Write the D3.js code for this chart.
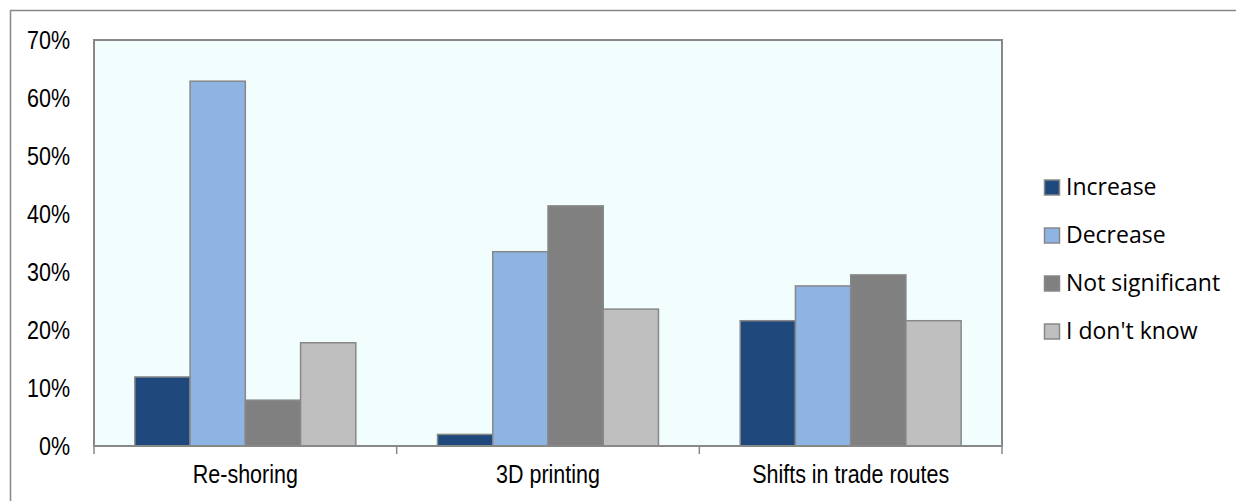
<!DOCTYPE html>
<html><head><meta charset="utf-8">
<script src="https://cdn.jsdelivr.net/npm/d3@7/dist/d3.min.js"></script>
<style>body{margin:0;background:#fff}</style>
</head><body>
<script>
const categories = ["Re-shoring", "3D printing", "Shifts in trade routes"];
const seriesNames = ["Increase", "Decrease", "Not significant", "I don't know"];
const increase = [11.9, 2.0, 21.6];
const decrease = [62.9, 33.5, 27.6];
const notSignificant = [7.9, 41.4, 29.5];
const dontKnow = [17.8, 23.6, 21.6];
const yTicks = [0, 10, 20, 30, 40, 50, 60, 70];
const colors = ["#1f497d", "#8eb4e3", "#808080", "#bfbfbf"];

const series = [increase, decrease, notSignificant, dontKnow];
const W = 1236, H = 501;
const svg = d3.select("body").append("svg").attr("width", W).attr("height", H);
const axisFont = "'Liberation Sans', Arial, sans-serif";
const axisSize = 21.5, stretch = 1.22;

// outer frame
svg.append("path").attr("d", `M10.5,${H+5} V10.5 H${W+5}`).attr("fill","none").attr("stroke","#888").attr("stroke-width",1.5);

const L = 94, R = 1002, T = 40, B = 446;
const x = d3.scaleBand().domain(categories).range([L, R]).paddingInner(0).paddingOuter(0);
const y = d3.scaleLinear().domain([0, 70]).range([B, T]);
const gBand = 0.73;
const x1 = d3.scaleBand().domain(seriesNames).range([0, x.bandwidth()*gBand]);

svg.append("rect").attr("x", L).attr("y", T).attr("width", R-L).attr("height", B-T)
  .attr("fill", "#f2fefe").attr("stroke", "#888").attr("stroke-width", 2);

categories.forEach((c, ci) => {
  const off = x(c) + x.bandwidth()*(1-gBand)/2;
  seriesNames.forEach((s, si) => {
    const v = series[si][ci];
    svg.append("rect")
      .attr("x", off + x1(s)).attr("y", y(v))
      .attr("width", x1.bandwidth()).attr("height", B - y(v))
      .attr("fill", colors[si]).attr("stroke", "#888").attr("stroke-width", 1.5);
  });
});

// x axis
const xa = svg.append("g").attr("transform", `translate(0,${B})`);
xa.append("line").attr("x1", L).attr("x2", R).attr("stroke", "#888").attr("stroke-width", 2);
const bounds = categories.map(c => x(c)).concat([R]);
bounds.forEach(b => xa.append("line").attr("x1", b).attr("x2", b).attr("y1", 0).attr("y2", 8).attr("stroke", "#888").attr("stroke-width", 1.5));
categories.forEach(c => xa.append("text")
  .attr("transform", `translate(${x(c)+x.bandwidth()/2},37) scale(1,${stretch})`)
  .attr("text-anchor","middle").attr("font-family", axisFont).attr("font-size", axisSize).attr("fill","#000").text(c));

// y axis labels
yTicks.forEach(t => svg.append("text")
  .attr("transform", `translate(70,${y(t)+9}) scale(1,${stretch})`)
  .attr("text-anchor","end").attr("font-family", axisFont).attr("font-size", axisSize).attr("fill","#000").text(t + "%"));

// legend
const ly = [195, 243, 291, 339];
seriesNames.forEach((s, i) => {
  svg.append("rect").attr("x", 1044.5).attr("y", ly[i]-15).attr("width", 15).attr("height", 15)
    .attr("fill", colors[i]).attr("stroke", "#888").attr("stroke-width", 1.5);
  svg.append("text").attr("x", 1066).attr("y", ly[i])
    .attr("font-family", "'Open Sans', 'Noto Sans', sans-serif").attr("font-size", 23).attr("fill","#000").text(s);
});
</script>
</body></html>
